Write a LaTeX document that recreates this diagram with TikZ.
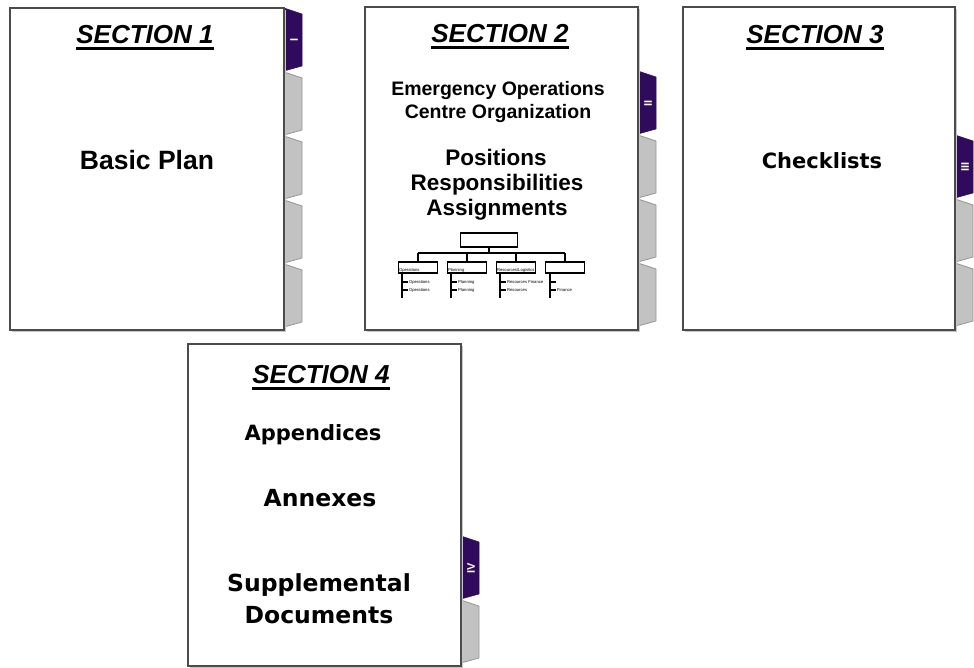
\documentclass[tikz,border=0pt]{standalone}
\usepackage{fontspec}
\setmainfont{Liberation Sans}
\newfontfamily\dvs{DejaVu Sans}
\definecolor{tabpurple}{RGB}{48,10,92}
\definecolor{tabgray}{RGB}{194,194,194}
\definecolor{tabedge}{RGB}{150,150,150}
\definecolor{boxline}{RGB}{75,75,75}
\tikzset{
  binder/.style={draw=boxline, line width=2pt, fill=white},
  shadowbox/.style={fill=black!22, draw=none},
  tabpic/.pic={\path[pic actions] (0,0) -- (18,6) -- (18,58) -- (0,63) -- cycle;},
  ptab/.style={fill=tabpurple, draw=tabpurple, line width=0.5pt},
  gtab/.style={fill=tabgray, draw=tabedge, line width=0.8pt},
  numeral/.style={text=white, font=\bfseries\fontsize{11}{11}\selectfont, inner sep=0pt, rotate=90},
  title/.style={font=\bfseries\itshape\fontsize{26}{29}\selectfont, anchor=base, inner sep=0pt},
  bodyA/.style={font=\bfseries\fontsize{19.5}{22}\selectfont, anchor=base, inner sep=0pt},
  bodyB/.style={font=\bfseries\fontsize{22.5}{25}\selectfont, anchor=base, inner sep=0pt},
  bodyC/.style={font=\bfseries\fontsize{26.5}{29}\selectfont, anchor=base, inner sep=0pt},
  bodyD/.style={font=\dvs\bfseries\fontsize{21}{24}\selectfont, anchor=base, inner sep=0pt},
  bodyE/.style={font=\dvs\bfseries\fontsize{23.5}{26}\selectfont, anchor=base, inner sep=0pt},
  orgbox/.style={draw=black, line width=1.4pt, fill=white, inner sep=0pt},
  tiny/.style={font=\fontsize{4.2}{5}\selectfont, inner sep=0pt, anchor=west},
  org/.style={draw=black, line width=1.2pt},
}
\begin{document}
\begin{tikzpicture}[x=1pt,y=-1pt]
\useasboundingbox (0,0) rectangle (974,667);
% ---------------- Section 1 ----------------
\pic[ptab] at (284,8) {tabpic};
\pic[gtab] at (284,72) {tabpic};
\pic[gtab] at (284,136) {tabpic};
\pic[gtab] at (284,200) {tabpic};
\pic[gtab] at (284,264) {tabpic};
\node[numeral] (n1) at (294,40) {I};
\fill[shadowbox] (12,10) rectangle (286,332);
\draw[binder] (10,8) rectangle (284,330);
\node[title] (t1) at (145,43) {SECTION 1};
\draw[line width=3pt] ([yshift=-5pt]t1.base west) -- ([yshift=-5pt]t1.base east);
\node[bodyC] (b1) at (147,169) {Basic Plan};
% ---------------- Section 2 ----------------
\pic[ptab] at (638,71) {tabpic};
\pic[gtab] at (638,135) {tabpic};
\pic[gtab] at (638,199) {tabpic};
\pic[gtab] at (638,263) {tabpic};
\node[numeral] (n2) at (648,103) {II};
\fill[shadowbox] (367,9) rectangle (640,332);
\draw[binder] (365,7) rectangle (638,330);
\node[title] (t2) at (500,42) {SECTION 2};
\draw[line width=3pt] ([yshift=-5pt]t2.base west) -- ([yshift=-5pt]t2.base east);
\node[bodyA] (e1) at (498,95) {Emergency Operations};
\node[bodyA] (e2) at (498,118) {Centre Organization};
\node[bodyB] (p1) at (496,165) {Positions};
\node[bodyB] (p2) at (497,190) {Responsibilities};
\node[bodyB] (p3) at (497,215) {Assignments};
% org chart
\node[orgbox, minimum width=57pt, minimum height=14pt] (ot) at (489,240) {};
\coordinate (busL) at (418,253);
\coordinate (busR) at (565,253);
\draw[org] (busL) -- (busR);
\draw[org] (ot.south) -- (ot.south |- busL);
\node[orgbox, minimum width=39pt, minimum height=11pt] (oa) at (418,267.5) {};
\node[orgbox, minimum width=39pt, minimum height=11pt] (ob) at (467,267.5) {};
\node[orgbox, minimum width=39pt, minimum height=11pt] (oc) at (516,267.5) {};
\node[orgbox, minimum width=39pt, minimum height=11pt] (od) at (565,267.5) {};
\foreach \c in {oa,ob,oc,od}{\draw[org] (\c.north) -- (\c.north |- busL);}
\node[tiny] (la) at ([xshift=1pt,yshift=-2.5pt]oa.west) {Operations};
\node[tiny] (lb) at ([xshift=1pt,yshift=-2.5pt]ob.west) {Planning};
\node[tiny] (lc) at ([xshift=1pt,yshift=-2.5pt]oc.west) {Resources/Logistics};
% sub-items
\foreach \c/\x/\la/\lb in {oa/402/Operations/Operations, ob/451/Planning/Planning, oc/500/Resources Finance/Resources, od/550//Finance}{
  \coordinate (\c s) at (\x,273);
  \coordinate (\c e) at (\x,298);
  \coordinate (\c 1) at (\x,282);
  \coordinate (\c 2) at (\x,290);
  \draw[org] (\c s) -- (\c e);
  \draw[org] (\c 1) -- ++(6,0) node[tiny, anchor=west, xshift=0.5pt] (\c t1) {\la};
  \draw[org] (\c 2) -- ++(6,0) node[tiny, anchor=west, xshift=0.5pt] (\c t2) {\lb};
}
% ---------------- Section 3 ----------------
\pic[ptab] at (955,135) {tabpic};
\pic[gtab] at (955,199) {tabpic};
\pic[gtab] at (955,263) {tabpic};
\node[numeral] (n3) at (965,167) {III};
\fill[shadowbox] (685,9) rectangle (957,332);
\draw[binder] (683,7) rectangle (955,330);
\node[title] (t3) at (815,43) {SECTION 3};
\draw[line width=3pt] ([yshift=-5pt]t3.base west) -- ([yshift=-5pt]t3.base east);
\node[bodyD] (c1) at (822,168) {Checklists};
% ---------------- Section 4 ----------------
\pic[ptab] at (461,536) {tabpic};
\pic[gtab] at (461,600) {tabpic};
\node[numeral] (n4) at (471,568) {IV};
\fill[shadowbox] (190,346) rectangle (463,669);
\draw[binder] (188,344) rectangle (461,666);
\node[title] (t4) at (321,383) {SECTION 4};
\draw[line width=3pt] ([yshift=-5pt]t4.base west) -- ([yshift=-5pt]t4.base east);
\node[bodyD] (a1) at (313,440) {Appendices};
\node[bodyE] (a2) at (320,506) {Annexes};
\node[bodyE] (a3) at (319,591) {Supplemental};
\node[bodyE] (a4) at (319,623) {Documents};
\end{tikzpicture}
\end{document}
